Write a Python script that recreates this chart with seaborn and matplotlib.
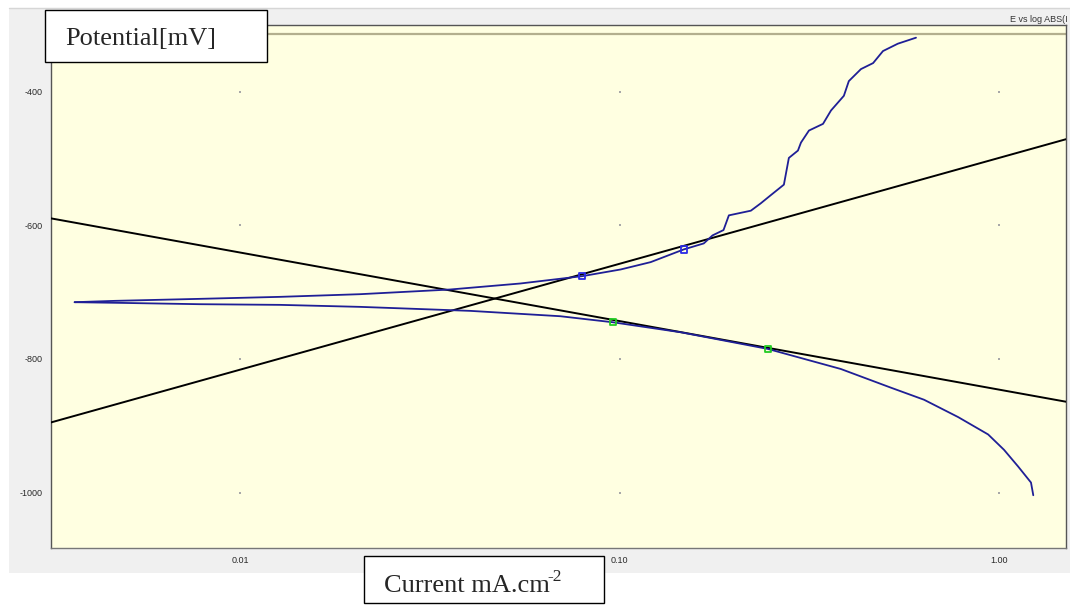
import numpy as np
import pandas as pd
import matplotlib
matplotlib.use('Agg')
import matplotlib.pyplot as plt
from matplotlib.patches import Rectangle
from matplotlib.lines import Line2D
from matplotlib.ticker import NullLocator
import seaborn as sns

# polarization curve, anodic branch (current mA/cm2, potential mV)
anodic_i = [0.00367, 0.00468, 0.00783, 0.01276, 0.02075, 0.0358, 0.0548, 0.0798,
            0.1007, 0.1208, 0.1476, 0.1667, 0.1758, 0.1879, 0.1941, 0.2218, 0.2355,
            0.2500, 0.2710, 0.2793, 0.2951, 0.3006, 0.3155, 0.3436, 0.3606, 0.3899,
            0.4018, 0.4325, 0.4656, 0.4943, 0.5408, 0.6039]
anodic_e = [-715, -713, -710, -707, -703, -696, -687, -676,
            -666, -655, -636, -627, -615, -607, -585, -578, -567,
            -555, -539, -499, -488, -476, -458, -448, -428, -406,
            -384, -366, -357, -339, -328, -319]

# cathodic branch
cathodic_i = [0.00367, 0.00482, 0.00783, 0.01276, 0.02075, 0.0405, 0.0698, 0.0959,
              0.1449, 0.2460, 0.3828, 0.5188, 0.6339, 0.7798, 0.9354, 1.030, 1.122,
              1.213, 1.230]
cathodic_e = [-715, -716, -718, -719, -722, -728, -736, -745,
              -760, -785, -815, -843, -861, -887, -913, -936, -961,
              -985, -1004]

# tafel fit range markers
anodic_fit_i = [0.0798, 0.1476]
anodic_fit_e = [-676, -636]
cathodic_fit_i = [0.0959, 0.2460]
cathodic_fit_e = [-745, -785]

# tafel lines (ends at the axis limits)
tafel_i = [0.00318, 1.50]
tafel_anodic_e = [-895, -471]
tafel_cathodic_e = [-589.5, -864]

x_ticks = [0.01, 0.1, 1.0]
x_tick_labels = ['0.01', '0.10', '1.00']
y_ticks = [-400, -600, -800, -1000]
limit_e = -313

W, H = 1070, 606

sns.set_style('white')
plt.rcParams['font.family'] = ['Liberation Sans', 'DejaVu Sans']

fig = plt.figure(figsize=(W / 100, H / 100), dpi=100)
fig.patch.set_facecolor('white')


def fig_rect(x0, y0, x1, y1, **kw):
    # rectangle given in pixel coords (top-left origin)
    r = Rectangle((x0 / W, 1 - y1 / H), (x1 - x0) / W, (y1 - y0) / H,
                  transform=fig.transFigure, **kw)
    fig.add_artist(r)
    return r


# grey panel behind the chart
fig_rect(9, 8, 1070, 573, facecolor='#f0f0f0', edgecolor='none', zorder=0)
fig.add_artist(Line2D([9 / W, 1], [1 - 8 / H, 1 - 8 / H], transform=fig.transFigure,
                      color='#d6d6d6', lw=1, zorder=1))

ax = fig.add_axes([51 / W, 1 - 548 / H, (1066 - 51) / W, (548 - 25) / H])
ax.set_facecolor('#ffffe1')
ax.set_zorder(2)

ax.axhline(limit_e, color='#b3af8e', lw=1.6, zorder=1)

gx, gy = np.meshgrid(x_ticks, y_ticks)
ax.scatter(gx.ravel(), gy.ravel(), s=1.5, marker='s', color='#a8a8a8', lw=0, zorder=1)

sns.lineplot(x=tafel_i, y=tafel_anodic_e, color='black', lw=1.4, ax=ax, zorder=3)
sns.lineplot(x=tafel_i, y=tafel_cathodic_e, color='black', lw=1.4, ax=ax, zorder=3)

curve_color = '#1f1f96'
sns.lineplot(x=anodic_i, y=anodic_e, sort=False, estimator=None, color=curve_color,
             lw=1.3, ax=ax, zorder=4)
sns.lineplot(x=cathodic_i, y=cathodic_e, sort=False, estimator=None, color=curve_color,
             lw=1.3, ax=ax, zorder=4)

sns.scatterplot(x=anodic_fit_i, y=anodic_fit_e, marker='s', s=20, facecolor='none',
                edgecolor='#2b2be6', linewidth=1.3, ax=ax, zorder=5)
sns.scatterplot(x=cathodic_fit_i, y=cathodic_fit_e, marker='s', s=20, facecolor='none',
                edgecolor='#22cc22', linewidth=1.3, ax=ax, zorder=5)

ax.set_xscale('log')
ax.set_xlim(0.00318, 1.50)
ax.set_ylim(-1083, -300)
ax.set_xticks(x_ticks)
ax.set_xticklabels(x_tick_labels)
ax.xaxis.set_minor_locator(NullLocator())
ax.set_yticks(y_ticks)
ax.set_yticklabels([str(v) for v in y_ticks])
ax.tick_params(axis='both', direction='out', length=4, width=0.8, color='#555555',
               labelsize=6.5, labelcolor='#2a2a2a', pad=2)
ax.set_xlabel('')
ax.set_ylabel('')
for side in ['left', 'top', 'right']:
    ax.spines[side].set_color('#555555')
    ax.spines[side].set_linewidth(1)
ax.spines['bottom'].set_color('#777777')
ax.spines['bottom'].set_linewidth(1)

fig.text(1068 / W, 1 - 22 / H, 'E vs log ABS(I', ha='right', va='baseline',
         fontsize=6.5, color='#333333', zorder=3)

# axis label boxes
fig_rect(45, 10, 267, 62, facecolor='white', edgecolor='black', lw=1, zorder=5)
fig.text(65 / W, 1 - 45 / H, 'Potential[mV]', family='Liberation Serif', fontsize=19,
         va='baseline', ha='left', zorder=6)

fig_rect(364, 556, 604, 603, facecolor='white', edgecolor='black', lw=1, zorder=5)
xlab = fig.text(384 / W, 1 - 592 / H, 'Current mA.cm', family='Liberation Serif',
                fontsize=19, va='baseline', ha='left', zorder=6)
renderer = fig.canvas.get_renderer()
bb = xlab.get_window_extent(renderer=renderer)
fig.text((bb.x1 - 2) / W, 1 - 581 / H, '-2', family='Liberation Serif',
         fontsize=12.5, va='baseline', ha='left', zorder=6)

fig.savefig('out.png', dpi=100)
